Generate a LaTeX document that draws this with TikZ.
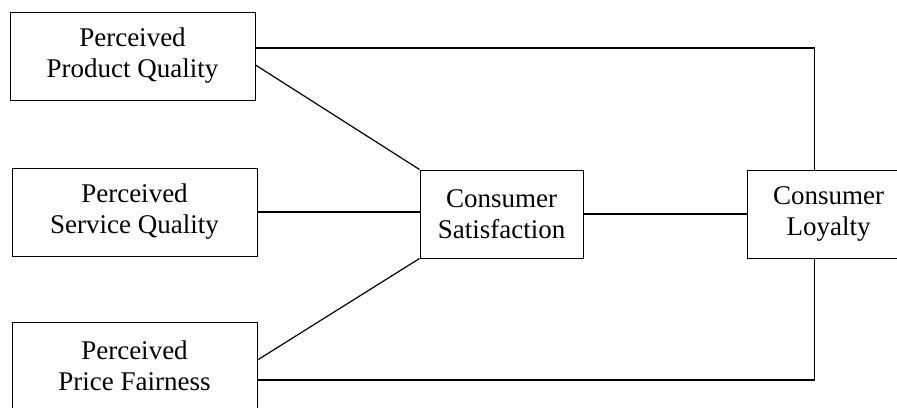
\documentclass[tikz,border=0pt]{standalone}
\usepackage{fontspec}
\setmainfont{Liberation Serif}
\begin{document}
\begin{tikzpicture}[
    x=1pt, y=-1pt,
    box/.style={rectangle, draw, line width=1pt, align=center, minimum width=245pt, minimum height=88pt, inner sep=0pt, font=\fontsize{27}{31}\selectfont},
    cbox/.style={box, minimum width=163pt},
    line/.style={draw, line width=1.2pt}
]
    \useasboundingbox (0,0) rectangle (897,407);

    \node [box] (prod_q) at (132.5,56) {Perceived\\Product Quality};
    \node [box] (serv_q) at (134.5,212) {Perceived\\Service Quality};
    \node [box] (price_f) at (134.5,366) {Perceived\\Price Fairness};

    \node [cbox] (sat) at (501.5,214) {Consumer\\Satisfaction};
    \node [cbox] (loyal) at (828.5,214) {Consumer\\Loyalty};

    \draw [line] ([yshift=-9pt]prod_q.east) -- (sat.north west);
    \draw [line] (serv_q.east) -- (serv_q.east -| sat.west);
    \draw [line] ([yshift=6pt]price_f.east) -- (sat.south west);

    \draw [line] (sat.east) -- (loyal.west);

    \draw [line] ([yshift=8pt]prod_q.east) -| ([xshift=-14pt]loyal.north);
    \draw [line] ([yshift=-14pt]price_f.east) -| ([xshift=-14pt]loyal.south);
\end{tikzpicture}
\end{document}
